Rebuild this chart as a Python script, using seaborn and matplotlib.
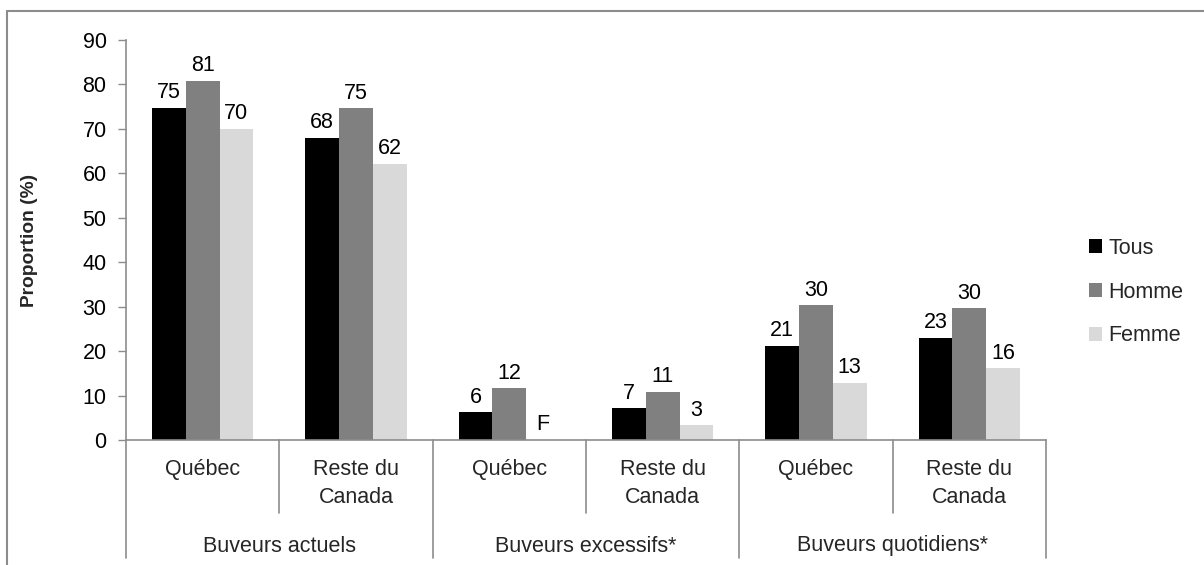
import numpy as np
import pandas as pd
import matplotlib
matplotlib.use("Agg")
import matplotlib.pyplot as plt
import seaborn as sns
from matplotlib.lines import Line2D

# ---- data ----
groups = ["Buveurs actuels", "Buveurs excessifs*", "Buveurs quotidiens*"]
regions = ["Québec", "Reste du\nCanada"]
series = ["Tous", "Homme", "Femme"]
tous = [74.8, 67.9, 6.2, 7.1, 21.1, 22.9]
homme = [80.8, 74.6, 11.6, 10.9, 30.3, 29.6]
femme = [70.0, 62.1, np.nan, 3.3, 12.8, 16.1]
colors = ["#000000", "#808080", "#d9d9d9"]
yticks = [0, 10, 20, 30, 40, 50, 60, 70, 80, 90]

positions = [f"{g}|{r}" for g in groups for r in regions]
sub_labels = [r for g in groups for r in regions]

rows = []
for s, vals in zip(series, [tous, homme, femme]):
    for p, v in zip(positions, vals):
        rows.append({"pos": p, "serie": s, "value": v})
df = pd.DataFrame(rows)

sns.set_style("white")
plt.rcParams["font.family"] = ["Liberation Sans", "DejaVu Sans"]

W, H = 1204, 565
fig = plt.figure(figsize=(W / 100, H / 100), dpi=100)
ax = fig.add_axes([126 / W, 1 - 440 / H, (1046 - 126) / W, 400 / H])

bar_w = 0.66
sns.barplot(data=df, x="pos", y="value", hue="serie", order=positions,
            hue_order=series, palette=colors, width=bar_w, gap=0,
            linewidth=0, saturation=1, ax=ax, legend=True)

FS = 15.5
gray = "#8c8c8c"
ax.set_xlim(-0.5, len(positions) - 0.5)
ax.set_ylim(0, 90)
ax.set_yticks(yticks)
ax.set_ylabel("")
ax.set_xlabel("")
ax.set_xticks([])
ax.tick_params(axis="y", which="both", left=True, length=6, width=1,
               color=gray, labelsize=FS, pad=8, labelcolor="black")
for sp in ["top", "right"]:
    ax.spines[sp].set_visible(False)
for sp in ["left", "bottom"]:
    ax.spines[sp].set_color(gray)
    ax.spines[sp].set_linewidth(1.2)

# value labels
n = len(series)
bw = bar_w / n
for j, vals in enumerate([tous, homme, femme]):
    for i, v in enumerate(vals):
        x = i + (j - (n - 1) / 2) * bw
        if np.isnan(v):
            txt, y = "F", 0
        else:
            txt, y = f"{round(v):d}", v
        ax.annotate(txt, (x, y), xytext=(0, 7), textcoords="offset points",
                    ha="center", va="baseline", fontsize=FS, color="black")

# hierarchical x axis
xt = ax.get_xaxis_transform()
px = 1 / 400
for k in range(len(positions) + 1):
    major = (k % len(regions) == 0)
    ylow = -118 * px if major else -73 * px
    ax.plot([k - 0.5, k - 0.5], [0, ylow], transform=xt, color=gray,
            lw=1.2, clip_on=False)
for i, lab in enumerate(sub_labels):
    ax.text(i, -19 * px, lab, transform=xt, ha="center", va="top",
            fontsize=FS, linespacing=1.45)
for g, name in enumerate(groups):
    xc = g * len(regions) + (len(regions) - 1) / 2
    ax.text(xc, -111.5 * px, name, transform=xt, ha="center",
            va="baseline", fontsize=FS)

# y label
fig.text(30 / W, 1 - 240 / H, "Proportion (%)", rotation=90, ha="center",
         va="center", fontsize=13.8, fontweight="bold")

# legend
old = ax.get_legend()
handles = old.legend_handles
labels = [t.get_text() for t in old.get_texts()]
old.remove()
fig.legend(handles, labels, loc="center left",
           bbox_to_anchor=((1087 - 7) / W, 1 - 292 / H),
           bbox_transform=fig.transFigure, frameon=False, fontsize=FS,
           handlelength=0.61, handleheight=0.61, handletextpad=0.3,
           labelspacing=1.06, borderaxespad=0)

# outer border (top and left)
fig.add_artist(Line2D([7 / W, 1], [1 - 11 / H, 1 - 11 / H],
                      transform=fig.transFigure, color=gray, lw=1.5))
fig.add_artist(Line2D([7 / W, 7 / W], [0, 1 - 11 / H],
                      transform=fig.transFigure, color=gray, lw=1.5))

fig.savefig("out.png", dpi=100)
